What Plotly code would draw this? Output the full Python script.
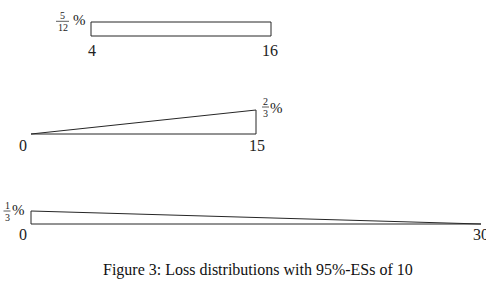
import plotly.graph_objects as go

W, H = 486, 287

# ---- data ----
rect_x = [4, 4, 16, 16, 4]
rect_y = [0, 5/12, 5/12, 0, 0]
tri_x = [0, 15, 15, 0]
tri_y = [0, 2/3, 0, 0]
dec_x = [0, 0, 30, 0]
dec_y = [0, 1/3, 0, 0]

tick_labels = [
    # (panel, value, text)
    (1, 4, "4"), (1, 16, "16"),
    (2, 0, "0"), (2, 15, "15"),
    (3, 0, "0"), (3, 30, "30"),
]
height_labels = [
    # (panel, x, height, numerator, denominator)
    (1, 4, 5/12, "5", "12"),
    (2, 15, 2/3, "2", "3"),
    (3, 0, 1/3, "1", "3"),
]
caption = "Figure 3: Loss distributions with 95%-ESs of 10"

# ---- layout helpers (pixel geometry) ----
x0_px, x_scale = 31.0, 15.0
panel_geom = {1: (36.0, 33.6), 2: (134.0, 36.0), 3: (224.0, 39.0)}  # baseline px, px per %

def yrange(p0, s):
    return [-(H - p0) / s, p0 / s]

LINE = dict(color="#262626", width=1)
fig = go.Figure()
for xs, ys, ax in [(rect_x, rect_y, "y"), (tri_x, tri_y, "y2"), (dec_x, dec_y, "y3")]:
    fig.add_trace(go.Scatter(x=xs, y=ys, mode="lines", line=LINE, yaxis=ax,
                             hoverinfo="skip", showlegend=False))

axref = {1: "y", 2: "y2", 3: "y3"}
serif = "Liberation Serif"
ann = []
tick_offsets = {(1, 4): (0.5, -14), (1, 16): (-1, -14), (2, 0): (-8.5, -11),
                (2, 15): (0.5, -11), (3, 0): (-8.5, -10), (3, 30): (0, -10)}
for p, v, t in tick_labels:
    dx, dy = tick_offsets[(p, v)]
    ann.append(dict(x=v, y=0, xref="x", yref=axref[p], text=t, showarrow=False,
                    xanchor="center", yanchor="middle", xshift=dx, yshift=dy,
                    font=dict(family=serif, size=16, color="#222")))

frac_offsets = {1: ((-28.5, 0.7), (-12, 2)), 2: ((9.5, 3), (20.5, 2)), 3: ((-24, 0), (-12.5, 1))}
shapes = []
for p, xv, h, num, den in height_labels:
    (fdx, fdy), (pdx, pdy) = frac_offsets[p]
    ann.append(dict(x=xv, y=h, xref="x", yref=axref[p], text=num, showarrow=False,
                    xanchor="center", yanchor="middle", xshift=fdx, yshift=fdy + 6,
                    font=dict(family=serif, size=10, color="#222")))
    ann.append(dict(x=xv, y=h, xref="x", yref=axref[p], text=den, showarrow=False,
                    xanchor="center", yanchor="middle", xshift=fdx, yshift=fdy - 6.5,
                    font=dict(family=serif, size=10, color="#222")))
    half = 6.5 if len(den) > 1 else 3.5
    shapes.append(dict(type="line", xref="x", yref=axref[p], xsizemode="pixel", ysizemode="pixel",
                       xanchor=xv, yanchor=h, x0=fdx - half, x1=fdx + half, y0=fdy, y1=fdy,
                       line=dict(color="#333", width=0.8)))
    ann.append(dict(x=xv, y=h, xref="x", yref=axref[p], text="%", showarrow=False,
                    xanchor="center", yanchor="middle", xshift=pdx, yshift=pdy,
                    font=dict(family=serif, size=15, color="#222")))

ann.append(dict(x=258 / W, y=1 - 270 / H, xref="paper", yref="paper", text=caption,
                showarrow=False, xanchor="center", yanchor="middle",
                font=dict(family=serif, size=16, color="#111")))

hidden = dict(visible=False, showgrid=False, zeroline=False, fixedrange=True)
fig.update_layout(
    width=W, height=H, margin=dict(l=0, r=0, t=0, b=0),
    paper_bgcolor="white", plot_bgcolor="white",
    xaxis=dict(range=[-x0_px / x_scale, (W - x0_px) / x_scale], domain=[0, 1], **hidden),
    yaxis=dict(range=yrange(*panel_geom[1]), domain=[0, 1], **hidden),
    yaxis2=dict(range=yrange(*panel_geom[2]), domain=[0, 1], overlaying="y", **hidden),
    yaxis3=dict(range=yrange(*panel_geom[3]), domain=[0, 1], overlaying="y", **hidden),
    annotations=ann, shapes=shapes,
)
fig.write_html("out.html", config={"displayModeBar": False})
